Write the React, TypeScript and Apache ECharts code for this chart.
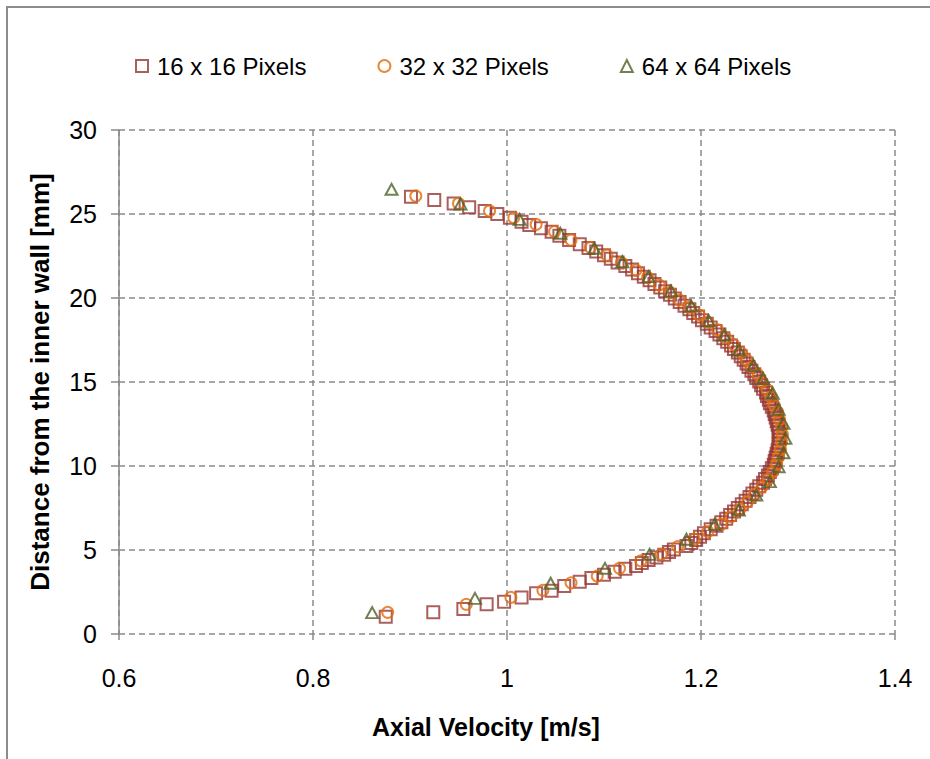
import React, { useEffect, useRef } from "react";
import * as echarts from "echarts";

// 16 x 16 pixel interrogation windows
const v16: number[] = [
  0.875, 0.924, 0.955, 0.979, 0.997, 1.015, 1.030, 1.046, 1.059, 1.075,
  1.087, 1.100, 1.111, 1.122, 1.133, 1.139, 1.146, 1.154, 1.162, 1.167,
  1.172, 1.185, 1.190, 1.195, 1.199, 1.203, 1.210, 1.216, 1.221, 1.226,
  1.230, 1.234, 1.238, 1.242, 1.246, 1.250, 1.253, 1.257, 1.260, 1.264,
  1.266, 1.269, 1.271, 1.273, 1.275, 1.276, 1.277, 1.278, 1.279, 1.280,
  1.280, 1.281, 1.281, 1.280, 1.280, 1.279, 1.278, 1.277, 1.276, 1.275,
  1.273, 1.271, 1.270, 1.268, 1.267, 1.264, 1.262, 1.260, 1.257, 1.255,
  1.252, 1.249, 1.247, 1.244, 1.241, 1.238, 1.234, 1.231, 1.227, 1.223,
  1.219, 1.215, 1.210, 1.206, 1.201, 1.197, 1.192, 1.188, 1.183, 1.178,
  1.173, 1.168, 1.163, 1.158, 1.152, 1.147, 1.141, 1.135, 1.129, 1.122,
  1.114, 1.107, 1.100, 1.092, 1.084, 1.075, 1.064, 1.054, 1.046, 1.035,
  1.023, 1.015, 1.003, 0.990, 0.977, 0.961, 0.945, 0.925, 0.901,
];
const d16: number[] = [
  1.03, 1.29, 1.49, 1.77, 1.92, 2.18, 2.42, 2.58, 2.85, 3.11,
  3.33, 3.52, 3.70, 3.88, 4.05, 4.23, 4.40, 4.56, 4.72, 4.88,
  5.03, 5.24, 5.42, 5.60, 5.79, 5.99, 6.23, 6.44, 6.65, 6.86,
  7.08, 7.29, 7.50, 7.72, 7.93, 8.15, 8.36, 8.58, 8.79, 9.01,
  9.22, 9.44, 9.65, 9.87, 10.08, 10.30, 10.51, 10.73, 10.94, 11.16,
  11.37, 11.59, 11.80, 12.02, 12.23, 12.45, 12.66, 12.88, 13.09, 13.31,
  13.52, 13.74, 13.95, 14.17, 14.38, 14.60, 14.81, 15.03, 15.24, 15.46,
  15.67, 15.89, 16.10, 16.32, 16.53, 16.75, 16.96, 17.18, 17.39, 17.61,
  17.82, 18.04, 18.25, 18.47, 18.68, 18.90, 19.11, 19.33, 19.54, 19.76,
  19.97, 20.19, 20.40, 20.62, 20.83, 21.05, 21.26, 21.48, 21.69, 21.91,
  22.12, 22.34, 22.55, 22.77, 22.98, 23.20, 23.45, 23.70, 23.95, 24.15,
  24.35, 24.54, 24.78, 25.00, 25.18, 25.40, 25.63, 25.83, 26.03,
];

// 32 x 32 pixel interrogation windows
const v32: number[] = [
  0.877, 0.958, 1.004, 1.037, 1.066, 1.093, 1.116, 1.138, 1.159, 1.176,
  1.193, 1.207, 1.221, 1.231, 1.240, 1.248, 1.255, 1.263, 1.269, 1.274,
  1.278, 1.280, 1.282, 1.283, 1.284, 1.283, 1.281, 1.279, 1.275, 1.272,
  1.268, 1.263, 1.259, 1.252, 1.247, 1.241, 1.234, 1.225, 1.217, 1.207,
  1.198, 1.188, 1.178, 1.168, 1.157, 1.145, 1.133, 1.118, 1.103, 1.086,
  1.066, 1.049, 1.030, 1.007, 0.982, 0.950, 0.906,
];
const d32: number[] = [
  1.29, 1.77, 2.18, 2.60, 3.05, 3.45, 3.91, 4.35, 4.74, 5.20,
  5.64, 6.09, 6.53, 6.98, 7.42, 7.87, 8.31, 8.76, 9.20, 9.65,
  10.09, 10.54, 10.98, 11.43, 11.87, 12.32, 12.76, 13.21, 13.65, 14.10,
  14.54, 14.99, 15.43, 15.88, 16.32, 16.77, 17.21, 17.66, 18.10, 18.55,
  18.99, 19.44, 19.88, 20.33, 20.77, 21.22, 21.66, 22.11, 22.55, 23.00,
  23.45, 23.95, 24.38, 24.78, 25.18, 25.63, 26.07,
];

// 64 x 64 pixel interrogation windows
const v64: number[] = [
  0.861, 0.967, 1.045, 1.101, 1.147, 1.185, 1.214, 1.239, 1.257, 1.271,
  1.280, 1.285, 1.287, 1.285, 1.280, 1.274, 1.264, 1.254, 1.239, 1.224,
  1.208, 1.190, 1.169, 1.146, 1.119, 1.090, 1.055, 1.013, 0.952, 0.881,
];
const d64: number[] = [
  1.27, 2.12, 3.02, 3.91, 4.74, 5.64, 6.52, 7.38, 8.27, 9.07,
  9.96, 10.79, 11.65, 12.54, 13.37, 14.33, 15.20, 16.00, 16.90, 17.80,
  18.65, 19.52, 20.42, 21.27, 22.16, 22.96, 23.85, 24.68, 25.60, 26.47,
];

const seriesNames = ["16 x 16 Pixels", "32 x 32 Pixels", "64 x 64 Pixels"];
const xTicks = [0.6, 0.8, 1.0, 1.2, 1.4];
const yTicks = [0, 5, 10, 15, 20, 25, 30];

const FONT = "'Liberation Sans', Arial, sans-serif";
const GRID_GRAY = "#8a8a8a";

const zip = (xs: number[], ys: number[]) => xs.map((x, i) => [x, ys[i]]);

export default function App() {
  const ref = useRef<HTMLDivElement>(null);

  useEffect(() => {
    if (!ref.current) return;
    const chart = echarts.init(ref.current, null, { renderer: "svg" });

    const hollow = (color: string) => ({
      color: "rgba(255,255,255,0)",
      borderColor: color,
      borderWidth: 2,
    });

    chart.setOption({
      animation: false,
      backgroundColor: "#ffffff",
      textStyle: { fontFamily: FONT },
      graphic: [
        {
          type: "rect",
          shape: { x: 7, y: 7, width: 1000, height: 1000 },
          style: { fill: "none", stroke: "#8c8c8c", lineWidth: 2 },
          silent: true,
        },
      ],
      legend: {
        left: 130,
        top: 49,
        itemGap: 71,
        itemWidth: 12,
        itemHeight: 12,
        textStyle: { fontSize: 24, color: "#000", fontFamily: FONT, padding: [0, 0, 0, 4] },
        data: seriesNames,
      },
      grid: { left: 119, right: 35, top: 130, bottom: 125 },
      xAxis: {
        type: "value",
        min: xTicks[0],
        max: xTicks[xTicks.length - 1],
        interval: 0.2,
        name: "Axial Velocity [m/s]",
        nameLocation: "middle",
        nameGap: 80,
        nameTextStyle: {
          fontSize: 25,
          fontWeight: "bold",
          color: "#000",
          fontFamily: FONT,
          padding: [0, 42, 0, 0],
        },
        axisLine: { show: false },
        axisTick: { show: true, length: 6, lineStyle: { color: GRID_GRAY, width: 1.5 } },
        axisLabel: {
          fontSize: 25,
          color: "#000",
          margin: 31,
          fontFamily: FONT,
          formatter: (v: number) => (Math.abs(v - 1) < 1e-9 ? "1" : String(Math.round(v * 10) / 10)),
        },
        splitLine: { show: true, lineStyle: { color: GRID_GRAY, width: 1.5, type: [6, 4] } },
      },
      yAxis: {
        type: "value",
        min: yTicks[0],
        max: yTicks[yTicks.length - 1],
        interval: 5,
        name: "Distance from the inner wall [mm]",
        nameLocation: "middle",
        nameGap: 66,
        nameTextStyle: { fontSize: 26, fontWeight: "bold", color: "#000", fontFamily: FONT },
        axisLine: { show: true, lineStyle: { color: GRID_GRAY, width: 1.5 } },
        axisTick: { show: true, length: 8, lineStyle: { color: GRID_GRAY, width: 1.5 } },
        axisLabel: { fontSize: 25, color: "#000", margin: 22, fontFamily: FONT },
        splitLine: { show: true, lineStyle: { color: GRID_GRAY, width: 1.5, type: [6, 4] } },
      },
      series: [
        {
          name: seriesNames[0],
          type: "scatter",
          symbol: "rect",
          symbolSize: 12,
          itemStyle: hollow("#953735"),
          data: zip(v16, d16),
          z: 2,
        },
        {
          name: seriesNames[1],
          type: "scatter",
          symbol: "circle",
          symbolSize: 11,
          itemStyle: hollow("#E46C0A"),
          data: zip(v32, d32),
          z: 3,
        },
        {
          name: seriesNames[2],
          type: "scatter",
          symbol: "triangle",
          symbolSize: [12, 11],
          itemStyle: hollow("#4F6228"),
          data: zip(v64, d64),
          z: 4,
        },
      ],
    });

    return () => chart.dispose();
  }, []);

  return (
    <div
      ref={ref}
      style={{ position: "fixed", left: 0, top: 0, width: 930, height: 759, background: "#fff" }}
    />
  );
}
